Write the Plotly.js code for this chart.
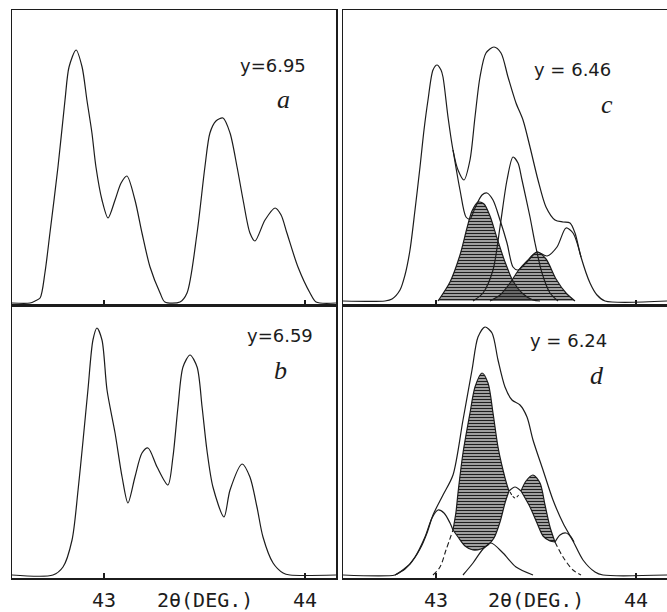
<!DOCTYPE html>
<html><head><meta charset="utf-8">
<script src="https://cdn.plot.ly/plotly-3.0.1.min.js"></script>
<style>html,body{margin:0;padding:0;background:#fff}</style>
</head><body><div id="chart" style="width:667px;height:612px"></div>
<script>
// ---- Panel a (y = 6.95) ----
const aX = [42.542,42.632,42.657,42.682,42.706,42.731,42.771,42.806,42.826,42.861,42.891,42.915,42.940,42.960,42.990,43.020,43.055,43.085,43.114,43.154,43.189,43.229,43.279,43.303,43.378,43.413,43.463,43.502,43.527,43.557,43.592,43.627,43.662,43.692,43.726,43.751,43.801,43.851,43.881,43.910,43.965,44.025,44.055,44.154];
const aY = [0,0,2,5,30,70,136,203,236,253,236,203,170,136,103,85,103,120,127,103,70,36,10,1,1,10,70,136,170,182,185,170,136,103,70,62,83,95,88,70,36,10,1,0];

// ---- Panel b (y = 6.59) ----
const bX = [42.542,42.746,42.796,42.841,42.871,42.896,42.920,42.945,42.965,42.990,43.015,43.055,43.090,43.119,43.154,43.189,43.219,43.264,43.318,43.343,43.368,43.393,43.428,43.463,43.488,43.512,43.542,43.597,43.627,43.687,43.726,43.761,43.791,43.841,43.891,43.925,44.154];
const bY = [0,0,8,35,85,135,185,235,247,235,185,142,98,72,98,122,127,108,90,118,168,208,220,208,168,125,88,58,85,111,98,68,38,12,2,0,0];

// ---- Panel c (y = 6.46) ----
const cEnvX = [42.535,42.745,42.780,42.820,42.845,42.870,42.895,42.920,42.940,42.960,42.985,43.005,43.025,43.035,43.060,43.085,43.110,43.140,43.170,43.195,43.220,43.250,43.290,43.325,43.360,43.400,43.435,43.470,43.510,43.550,43.595,43.635,43.670,43.695,43.725,43.770,43.805,43.845,44.155];
const cEnvY = [0,0,2,11,26,51,91,134,171,201,231,236,231,224,184,151,131,121,141,184,224,248,254,248,224,198,181,154,121,94,81,79,78,68,44,18,6,0,0];
const cSubX = [43.085,43.120,43.150,43.170,43.195,43.230,43.255,43.285,43.320,43.355,43.385,43.410,43.455,43.505,43.555,43.605,43.650,43.685,43.725];
const cSubY = [151,111,84,82,93,106,108,101,81,58,34,31,39,49,45,54,73,68,44];
const cPkX = [43.185,43.235,43.285,43.320,43.355,43.385,43.410,43.430,43.470,43.495,43.530,43.570,43.610];
const cPkY = [0,8,31,74,121,144,138,121,84,58,28,8,0];
const cH1X = [43.010,43.070,43.120,43.155,43.180,43.210,43.240,43.270,43.305,43.345,43.385,43.430,43.485,43.520];
const cH1Y = [0,19,46,73,90,99,97,85,63,39,20,8,1,0];
const cH2X = [43.270,43.320,43.370,43.410,43.455,43.505,43.550,43.600,43.650,43.695];
const cH2Y = [0,6,18,30,40,49,42,22,8,0];

// ---- Panel d (y = 6.24) ----
const dEnvX = [42.535,42.795,42.820,42.870,42.920,42.955,42.985,43.035,43.085,43.135,43.180,43.210,43.245,43.280,43.310,43.345,43.380,43.420,43.455,43.485,43.535,43.585,43.635,43.685,43.735,43.795,43.835,44.155];
const dEnvY = [0,0,3,11,26,42,60,80,100,155,205,238,248,242,215,188,175,170,158,135,105,75,52,34,15,3,0,0];
const dLX = [42.795,42.845,42.895,42.945,42.980,43.010,43.040,43.070,43.085];
const dLY = [0,6,18,38,57,65,62,52,45];
const dLow1X = [43.085,43.110,43.145,43.185,43.225,43.260,43.290,43.320,43.345,43.365];
const dLow1Y = [45,38,29,25,26,30,37,53,72,84];
const dUp1X = [43.085,43.100,43.110,43.135,43.170,43.195,43.230,43.260,43.285,43.310,43.335,43.355,43.365];
const dUp1Y = [45,63,82,122,162,188,202,192,162,128,105,90,84];
const dCapX = [43.365,43.395,43.425];
const dCapY = [84,88,84];
const dLow2X = [43.425,43.470,43.505,43.535,43.570,43.595];
const dLow2Y = [84,68,52,39,34,33];
const dUp2X = [43.425,43.450,43.485,43.520,43.545,43.570,43.595];
const dUp2Y = [84,94,100,92,70,48,33];
const dRX = [43.595,43.620,43.650,43.675,43.690];
const dRY = [33,40,42,38,33];
const dMX = [43.135,43.185,43.235,43.275,43.335,43.400,43.485];
const dMY = [0,12,26,32,22,8,0];
const dDashLX = [42.985,43.020,43.050,43.085];
const dDashLY = [0,8,25,45];
const dDashRX = [43.595,43.635,43.685,43.725];
const dDashRY = [33,18,5,0];
const dDashCX = [43.370,43.395,43.420];
const dDashCY = [83,77,82];

// ---- labels ----
const tickVals = [43, 44];
const tickText = ['43', '44'];
const axisLabel = '2θ(DEG.)';
const panelComp = ['y=6.95', 'y=6.59', 'y = 6.46', 'y = 6.24'];
const panelLetters = ['a', 'b', 'c', 'd'];

const INK = '#1c1c1c';
const hatch = {shape: '-', size: 3, solidity: 0.62, fgcolor: '#1e1e1e', bgcolor: 'rgba(0,0,0,0)'};

function line(x, y, xa, ya, extra) {
  return Object.assign({
    type: 'scatter', mode: 'lines', x: x, y: y, xaxis: xa, yaxis: ya,
    line: {color: INK, width: 1.2, shape: 'spline', smoothing: 0.8},
    hoverinfo: 'skip'
  }, extra || {});
}
function filled(x, y, xa, ya, fill) {
  return line(x, y, xa, ya, {fill: fill, fillcolor: 'rgba(0,0,0,0)', fillpattern: hatch});
}

const traces = [
  line(aX, aY, 'x', 'y'),
  line(bX, bY, 'x2', 'y2'),
  // panel c
  filled(cH1X, cH1Y, 'x3', 'y3', 'tozeroy'),
  filled(cH2X, cH2Y, 'x3', 'y3', 'tozeroy'),
  line(cPkX, cPkY, 'x3', 'y3'),
  line(cSubX, cSubY, 'x3', 'y3'),
  line(cEnvX, cEnvY, 'x3', 'y3'),
  // panel d
  line(dLow1X, dLow1Y, 'x4', 'y4'),
  filled(dUp1X, dUp1Y, 'x4', 'y4', 'tonexty'),
  line(dLow2X, dLow2Y, 'x4', 'y4'),
  filled(dUp2X, dUp2Y, 'x4', 'y4', 'tonexty'),
  line(dCapX, dCapY, 'x4', 'y4'),
  line(dRX, dRY, 'x4', 'y4'),
  line(dLX, dLY, 'x4', 'y4'),
  line(dMX, dMY, 'x4', 'y4'),
  line(dDashLX, dDashLY, 'x4', 'y4', {line: {color: INK, width: 1.1, dash: '5px,3px', shape: 'spline'}}),
  line(dDashRX, dDashRY, 'x4', 'y4', {line: {color: INK, width: 1.1, dash: '5px,3px', shape: 'spline'}}),
  line(dDashCX, dDashCY, 'x4', 'y4', {line: {color: INK, width: 1.1, dash: '3px,2px', shape: 'spline'}}),
  line(dEnvX, dEnvY, 'x4', 'y4')
];

const W = 667, H = 612;
const domL = [12 / W, 336 / W], domR = [343 / W, 1];
const domT = [1 - 305 / H, 1 - 10 / H], domB = [1 - 578 / H, 1 - 305 / H];
const rangeL = [42.5423, 44.1542], rangeR = [42.535, 44.155];
const tickFont = {family: 'DejaVu Sans Mono', size: 20, color: INK};

function xax(dom, rng, anchor, labels) {
  return {domain: dom, range: rng, anchor: anchor, showgrid: false, zeroline: false,
    showline: true, mirror: true, linecolor: INK, linewidth: 1.5,
    ticks: 'inside', ticklen: 5, tickwidth: 1.2, tickcolor: INK,
    tickvals: tickVals, ticktext: tickText, showticklabels: labels,
    tickfont: tickFont, ticklabelstandoff: 3, fixedrange: true};
}
function yax(dom, rng, anchor, mirror) {
  return {domain: dom, range: rng, anchor: anchor, showgrid: false, zeroline: false,
    showline: true, mirror: mirror, linecolor: INK, linewidth: 1.5,
    showticklabels: false, ticks: '', fixedrange: true};
}

const noteFont = {family: 'DejaVu Sans', size: 18, color: INK};
const letterFont = {family: 'Liberation Serif', size: 26, color: INK, style: 'italic'};
const annotations = [
  {xref: 'paper', yref: 'paper', x: 273 / W, y: 1 - 53 / H, text: panelComp[0], font: noteFont, showarrow: false},
  {xref: 'paper', yref: 'paper', x: 280 / W, y: 1 - 335 / H, text: panelComp[1], font: noteFont, showarrow: false},
  {xref: 'paper', yref: 'paper', x: 613 / W, y: 1 - 57 / H, text: panelComp[2], font: noteFont, showarrow: false},
  {xref: 'paper', yref: 'paper', x: 609 / W, y: 1 - 340 / H, text: panelComp[3], font: noteFont, showarrow: false},
  {xref: 'paper', yref: 'paper', x: 283 / W, y: 1 - 83 / H, text: panelLetters[0], font: letterFont, showarrow: false},
  {xref: 'paper', yref: 'paper', x: 280 / W, y: 1 - 370 / H, text: panelLetters[1], font: letterFont, showarrow: false},
  {xref: 'paper', yref: 'paper', x: 615 / W, y: 1 - 88 / H, text: panelLetters[2], font: letterFont, showarrow: false},
  {xref: 'paper', yref: 'paper', x: 606 / W, y: 1 - 375 / H, text: panelLetters[3], font: letterFont, showarrow: false},
  {xref: 'x2', yref: 'paper', x: 43.5, y: 1 - 600 / H, yanchor: 'middle', text: axisLabel, font: tickFont, showarrow: false},
  {xref: 'x4', yref: 'paper', x: 43.5, y: 1 - 600 / H, yanchor: 'middle', text: axisLabel, font: tickFont, showarrow: false}
];

const layout = {
  width: W, height: H, margin: {l: 0, r: 0, t: 0, b: 0},
  paper_bgcolor: '#ffffff', plot_bgcolor: '#ffffff', showlegend: false,
  xaxis: xax(domL, rangeL, 'y', false),
  yaxis: yax(domT, [-2, 293], 'x', true),
  xaxis2: xax(domL, rangeL, 'y2', true),
  yaxis2: yax(domB, [-3, 270], 'x2', true),
  xaxis3: xax(domR, rangeR, 'y3', false),
  yaxis3: yax(domT, [-4, 291], 'x3', false),
  xaxis4: xax(domR, rangeR, 'y4', true),
  yaxis4: yax(domB, [-3, 270], 'x4', false),
  annotations: annotations
};

Plotly.newPlot('chart', traces, layout, {displayModeBar: false, staticPlot: true});
</script></body></html>
